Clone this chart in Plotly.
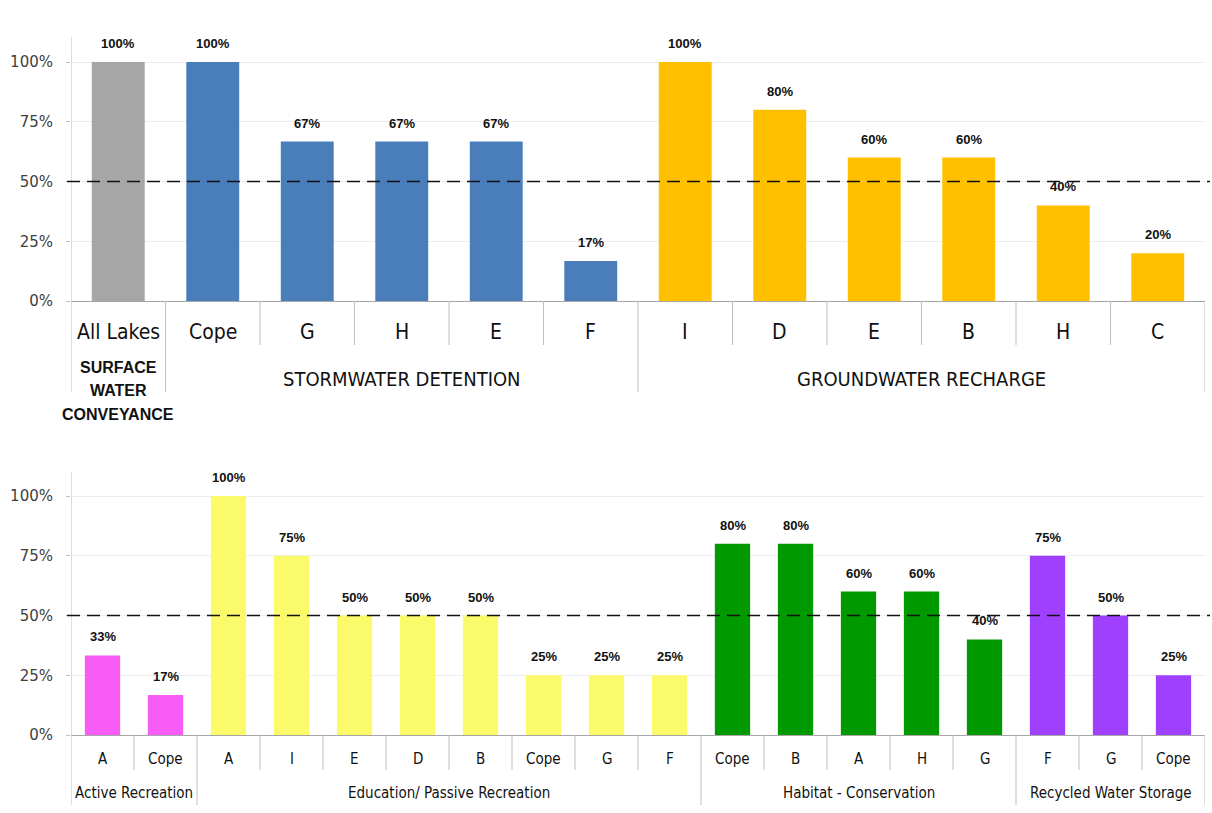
import plotly.graph_objects as go

# ---------------- data ----------------
top_labels = ["All Lakes", "Cope", "G", "H", "E", "F", "I", "D", "E", "B", "H", "C"]
top_values = [1.00, 1.00, 0.667, 0.667, 0.667, 0.167, 1.00, 0.80, 0.60, 0.60, 0.40, 0.20]
top_groups = ["SURFACE<br>WATER<br>CONVEYANCE", "STORMWATER DETENTION", "GROUNDWATER RECHARGE"]
top_group_sizes = [1, 5, 6]

bottom_labels = ["A", "Cope", "A", "I", "E", "D", "B", "Cope", "G", "F",
                 "Cope", "B", "A", "H", "G", "F", "G", "Cope"]
bottom_values = [0.333, 0.167, 1.00, 0.75, 0.50, 0.50, 0.50, 0.25, 0.25, 0.25,
                 0.80, 0.80, 0.60, 0.60, 0.40, 0.75, 0.50, 0.25]
bottom_groups = ["Active Recreation", "Education/ Passive Recreation",
                 "Habitat - Conservation", "Recycled Water Storage"]
bottom_group_sizes = [2, 8, 5, 3]

y_ticks = [0, 0.25, 0.5, 0.75, 1.0]
y_ticktext = ["0%", "25%", "50%", "75%", "100%"]
threshold = 0.5

# ---------------- styles ----------------
top_colors = ["#A6A6A6", "#4A7EBB", "#FFC000"]
bottom_colors = ["#F75CF7", "#FAFA6B", "#009A00", "#A040FF"]
W, H = 1212, 813
HEFF = 804  # effective vertical pixel scale observed in rendering
SANS = "Liberation Sans, Arial, sans-serif"
COND = "DejaVu Sans Condensed, Liberation Sans, Arial, sans-serif"


def p(py):
    return 1 - py / HEFF


fig = go.Figure()
shapes = []
annotations = []


def add_panel(labels, values, groups, sizes, colors, xa, ya, zero_px, top_px,
              lab_px, grp_px, short_px, long_px, lab_size, grp_size):
    start = 0
    for g, (gname, n) in enumerate(zip(groups, sizes)):
        idx = list(range(start, start + n))
        fig.add_trace(go.Bar(
            x=idx, y=[values[i] for i in idx],
            marker=dict(color=colors[g], line=dict(width=0)),
            xaxis=xa, yaxis=ya, showlegend=False, hoverinfo="skip",
        ))
        for i in idx:
            annotations.append(dict(
                x=i, y=values[i], xref=xa, yref=ya, text=f"{values[i]:.0%}",
                showarrow=False, xanchor="center", yanchor="bottom", yshift=9,
                font=dict(family=SANS, size=13, color="#111111", weight="bold"),
            ))
        # group label
        lines = gname.split("<br>")
        if len(lines) == 1:
            annotations.append(dict(
                x=(idx[0] + idx[-1]) / 2, y=p(grp_px), xref=xa, yref="paper",
                text=gname, showarrow=False, xanchor="center", yanchor="middle",
                font=dict(family=COND, size=grp_size, color="#111111"),
            ))
        else:
            for k, ln in enumerate(lines):
                annotations.append(dict(
                    x=(idx[0] + idx[-1]) / 2, y=p(367 + 23.5 * k), xref=xa, yref="paper",
                    text=ln, showarrow=False, xanchor="center", yanchor="middle",
                    font=dict(family=SANS, size=16, color="#111111", weight="bold"),
                ))
        start += n
    n_total = len(labels)
    for i, lab in enumerate(labels):
        annotations.append(dict(
            x=i, y=p(lab_px), xref=xa, yref="paper", text=lab, showarrow=False,
            xanchor="center", yanchor="middle",
            font=dict(family=COND, size=lab_size, color="#111111"),
        ))
    # separators
    boundaries = set()
    acc = 0
    for n in sizes:
        acc += n
        boundaries.add(acc)
    for b in range(1, n_total + 1):
        y1 = long_px if b in boundaries else short_px
        shapes.append(dict(type="line", xref=xa, yref="paper", x0=b - 0.5, x1=b - 0.5,
                           y0=p(zero_px), y1=p(y1), line=dict(color="#BFBFBF", width=1)))
    # left axis line
    shapes.append(dict(type="line", xref=xa, yref="paper", x0=-0.5, x1=-0.5,
                       y0=p(top_px), y1=p(long_px), line=dict(color="#BFBFBF", width=1)))
    # threshold dashed line
    shapes.append(dict(type="line", xref="paper", yref=ya, x0=67 / W, x1=1210 / W,
                       y0=threshold, y1=threshold,
                       line=dict(color="#111111", width=1.6, dash="13px,7px"), layer="above"))


add_panel(top_labels, top_values, top_groups, top_group_sizes, top_colors,
          "x", "y", 301, 37, 332, 379, 345, 392, 21, 20)
add_panel(bottom_labels, bottom_values, bottom_groups, bottom_group_sizes, bottom_colors,
          "x2", "y2", 735, 472, 759, 793, 770, 805, 15, 15)

xdom = [71 / W, 1205 / W]
axis_common = dict(showgrid=False, zeroline=False, showticklabels=False, ticks="",
                   showline=True, linecolor="#A6A6A6", linewidth=1)
yaxis_common = dict(tickvals=y_ticks, ticktext=y_ticktext, showgrid=True, gridcolor="#EEEEEE",
                    gridwidth=1, zeroline=False, showline=False, ticks="outside", ticklen=4,
                    tickcolor="#BFBFBF", ticklabelstandoff=10,
                    tickfont=dict(family="DejaVu Sans, Verdana, sans-serif", size=15, color="#404040"))

fig.update_layout(
    width=W, height=H, margin=dict(l=0, r=0, t=0, b=0),
    paper_bgcolor="white", plot_bgcolor="white",
    bargap=0.44,
    xaxis=dict(domain=xdom, range=[-0.5, len(top_labels) - 0.5], anchor="y", **axis_common),
    yaxis=dict(domain=[p(301), p(35)], range=[0, 266 / 239], anchor="x", **yaxis_common),
    xaxis2=dict(domain=xdom, range=[-0.5, len(bottom_labels) - 0.5], anchor="y2", **axis_common),
    yaxis2=dict(domain=[p(735), p(470)], range=[0, 265 / 239], anchor="x2", **yaxis_common),
    shapes=shapes, annotations=annotations,
)

fig.write_html("out.html")
